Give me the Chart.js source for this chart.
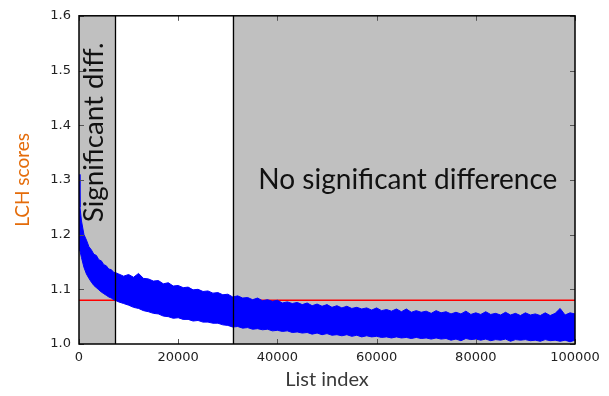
<!DOCTYPE html>
<html>
<head>
<meta charset="utf-8">
<script src="https://cdn.jsdelivr.net/npm/chart.js@4"></script>
<style>
html,body{margin:0;padding:0;background:#fff;}
#wrap{width:609px;height:396px;position:relative;}
</style>
</head>
<body>
<div id="wrap"><canvas id="c" width="609" height="396"></canvas></div>
<script>
// ---- data ----
const listIndex = [0, 200, 500, 1000, 1500, 2000, 2500, 3000, 3500, 4000, 4500, 5000, 5500, 6000, 6500, 7000, 7500,
  8000, 9000, 10000, 11000, 12000, 13000, 14000, 15000, 16000, 17000, 18000, 19000, 20000, 21000, 22000, 23000, 24000, 25000, 26000, 27000, 28000, 29000, 30000,
  31000, 32000, 33000, 34000, 35000, 36000, 37000, 38000, 39000, 40000, 41000, 42000, 43000, 44000, 45000, 46000, 47000, 48000, 49000, 50000,
  51000, 52000, 53000, 54000, 55000, 56000, 57000, 58000, 59000, 60000, 61000, 62000, 63000, 64000, 65000, 66000, 67000, 68000, 69000, 70000,
  71000, 72000, 73000, 74000, 75000, 76000, 77000, 78000, 79000, 80000, 81000, 82000, 83000, 84000, 85000, 86000, 87000, 88000, 89000, 90000,
  91000, 92000, 93000, 94000, 95000, 96000, 97000, 98000, 99000, 100000];
const upperScore = [1.31, 1.25, 1.225, 1.2, 1.19, 1.178, 1.172, 1.164, 1.162, 1.154, 1.152, 1.145, 1.143, 1.137, 1.136, 1.131, 1.13,
  1.128, 1.124, 1.127, 1.122, 1.129, 1.12, 1.119, 1.115, 1.116, 1.11, 1.112, 1.106, 1.107, 1.103, 1.104, 1.099, 1.1, 1.096, 1.097, 1.093, 1.094, 1.09, 1.091,
  1.086, 1.088, 1.084, 1.085, 1.081, 1.084, 1.079, 1.081, 1.078, 1.08, 1.075, 1.077, 1.074, 1.076, 1.072, 1.075, 1.07, 1.073, 1.069, 1.072,
  1.067, 1.07, 1.066, 1.069, 1.065, 1.067, 1.064, 1.066, 1.062, 1.066, 1.061, 1.063, 1.06, 1.064, 1.059, 1.064, 1.058, 1.061, 1.058, 1.06,
  1.056, 1.061, 1.057, 1.059, 1.055, 1.058, 1.055, 1.06, 1.054, 1.057, 1.054, 1.059, 1.054, 1.056, 1.053, 1.058, 1.053, 1.056, 1.052, 1.057,
  1.053, 1.055, 1.052, 1.057, 1.052, 1.056, 1.065, 1.053, 1.057, 1.055];
const lowerScore = [1.18, 1.17, 1.158, 1.14, 1.128, 1.12, 1.113, 1.107, 1.103, 1.099, 1.095, 1.092, 1.089, 1.086, 1.084, 1.081, 1.079,
  1.077, 1.074, 1.071, 1.067, 1.065, 1.061, 1.059, 1.056, 1.055, 1.051, 1.05, 1.047, 1.048, 1.045, 1.045, 1.042, 1.043, 1.04, 1.04, 1.038, 1.038, 1.035, 1.034,
  1.031, 1.032, 1.029, 1.03, 1.027, 1.028, 1.026, 1.027, 1.024, 1.025, 1.023, 1.024, 1.021, 1.022, 1.02, 1.021, 1.018, 1.02, 1.017, 1.019,
  1.016, 1.017, 1.015, 1.017, 1.014, 1.016, 1.013, 1.015, 1.013, 1.014, 1.012, 1.013, 1.011, 1.013, 1.011, 1.012, 1.01, 1.012, 1.01, 1.011,
  1.009, 1.011, 1.009, 1.01, 1.007, 1.009, 1.006, 1.01, 1.008, 1.009, 1.007, 1.009, 1.006, 1.008, 1.007, 1.009, 1.005, 1.008, 1.007, 1.008,
  1.006, 1.007, 1.005, 1.008, 1.006, 1.007, 1.005, 1.007, 1.004, 1.007];
const thresholdScore = 1.08;
const regionBounds = [7300, 31000];
const xTicks = [0, 20000, 40000, 60000, 80000, 100000];
const yTicks = [1.0, 1.1, 1.2, 1.3, 1.4, 1.5, 1.6];
const annotations = ["Significant diff.", "No significant difference"];

const upperPts = listIndex.map((x, i) => ({x, y: upperScore[i]}));
const lowerPts = listIndex.map((x, i) => ({x, y: lowerScore[i]}));
const threshPts = [{x: 0, y: thresholdScore}, {x: 100000, y: thresholdScore}];

function fitFont(ctx, text, family, width) {
  ctx.font = '100px ' + family;
  const w = ctx.measureText(text).width;
  return 100 * width / w;
}

const backPlugin = {
  id: 'back',
  beforeDatasetsDraw(chart) {
    const {ctx, chartArea: a, scales: {x, y}} = chart;
    ctx.save();
    ctx.fillStyle = '#c0c0c0';
    const x0 = x.getPixelForValue(0), x1 = x.getPixelForValue(regionBounds[0]);
    const x2 = x.getPixelForValue(regionBounds[1]), x3 = x.getPixelForValue(100000);
    ctx.fillRect(x0, a.top, x1 - x0, a.bottom - a.top);
    ctx.fillRect(x2, a.top, x3 - x2, a.bottom - a.top);
    ctx.restore();
  },
  afterDatasetsDraw(chart) {
    const {ctx, chartArea: a, scales: {x, y}} = chart;
    ctx.save();
    ctx.strokeStyle = '#000';
    ctx.lineWidth = 1.3;
    regionBounds.forEach(v => {
      const px = Math.round(x.getPixelForValue(v)) + 0.5;
      ctx.beginPath(); ctx.moveTo(px, a.top); ctx.lineTo(px, a.bottom); ctx.stroke();
    });
    ctx.strokeStyle = '#555';
    ctx.lineWidth = 1;
    xTicks.forEach(v => {
      const px = Math.round(x.getPixelForValue(v)) + 0.5;
      ctx.beginPath(); ctx.moveTo(px, a.bottom); ctx.lineTo(px, a.bottom - 5); ctx.stroke();
      ctx.beginPath(); ctx.moveTo(px, a.top); ctx.lineTo(px, a.top + 5); ctx.stroke();
    });
    yTicks.forEach(v => {
      const py = Math.round(y.getPixelForValue(v)) + 0.5;
      ctx.beginPath(); ctx.moveTo(a.left, py); ctx.lineTo(a.left + 5, py); ctx.stroke();
      ctx.beginPath(); ctx.moveTo(a.right, py); ctx.lineTo(a.right - 5, py); ctx.stroke();
    });
    ctx.strokeStyle = '#000';
    ctx.lineWidth = 1.5;
    ctx.strokeRect(a.left, a.top, a.right - a.left, a.bottom - a.top);
    const fam = 'Lato, "Open Sans", sans-serif';
    ctx.fillStyle = '#111';
    ctx.textAlign = 'center';
    ctx.textBaseline = 'alphabetic';
    let fs = fitFont(ctx, annotations[1], fam, 299);
    ctx.font = fs + 'px ' + fam;
    ctx.fillText(annotations[1], x.getPixelForValue(66300), y.getPixelForValue(1.284));
    fs = fitFont(ctx, annotations[0], fam, 180);
    ctx.font = fs + 'px ' + fam;
    ctx.translate(x.getPixelForValue(4800), y.getPixelForValue(1.387));
    ctx.rotate(-Math.PI / 2);
    ctx.fillText(annotations[0], 0, 0);
    ctx.restore();
  }
};

new Chart(document.getElementById('c'), {
  type: 'line',
  data: {
    datasets: [
      {data: upperPts, borderColor: '#0000ff', borderWidth: 1, pointRadius: 0, fill: false, tension: 0},
      {data: lowerPts, borderColor: '#0000ff', borderWidth: 1, pointRadius: 0, fill: '-1', backgroundColor: '#0000ff', tension: 0},
      {data: threshPts, borderColor: '#ff0000', borderWidth: 1.3, pointRadius: 0, fill: false}
    ]
  },
  options: {
    responsive: false,
    animation: false,
    events: [],
    layout: {padding: {top: 14, right: 34, left: 7, bottom: 0}},
    plugins: {legend: {display: false}, tooltip: {enabled: false}},
    scales: {
      x: {
        type: 'linear', min: 0, max: 100000,
        afterBuildTicks(s) { s.ticks = xTicks.map(v => ({value: v})); },
        afterFit(s) { s.height = 52; },
        grid: {display: false, drawTicks: false},
        border: {display: false},
        ticks: {color: '#222', font: {family: 'DejaVu Sans', size: 13}, padding: 6, maxRotation: 0,
                callback: v => String(v)},
        title: {display: true, text: 'List index', color: '#3a3a3a', font: {family: 'Lato, "Open Sans", sans-serif', size: 20}, padding: {top: 4}}
      },
      y: {
        type: 'linear', min: 1.0, max: 1.6,
        afterBuildTicks(s) { s.ticks = yTicks.map(v => ({value: v})); },
        afterFit(s) { s.width = 72; },
        grid: {display: false, drawTicks: false},
        border: {display: false},
        ticks: {color: '#222', font: {family: 'DejaVu Sans', size: 13}, padding: 8,
                callback: v => v.toFixed(1)},
        title: {display: true, text: 'LCH scores', color: '#e46c0a', font: {family: 'Lato, "Open Sans", sans-serif', size: 19}, padding: {bottom: 8}}
      }
    }
  },
  plugins: [backPlugin]
});
</script>
</body>
</html>
